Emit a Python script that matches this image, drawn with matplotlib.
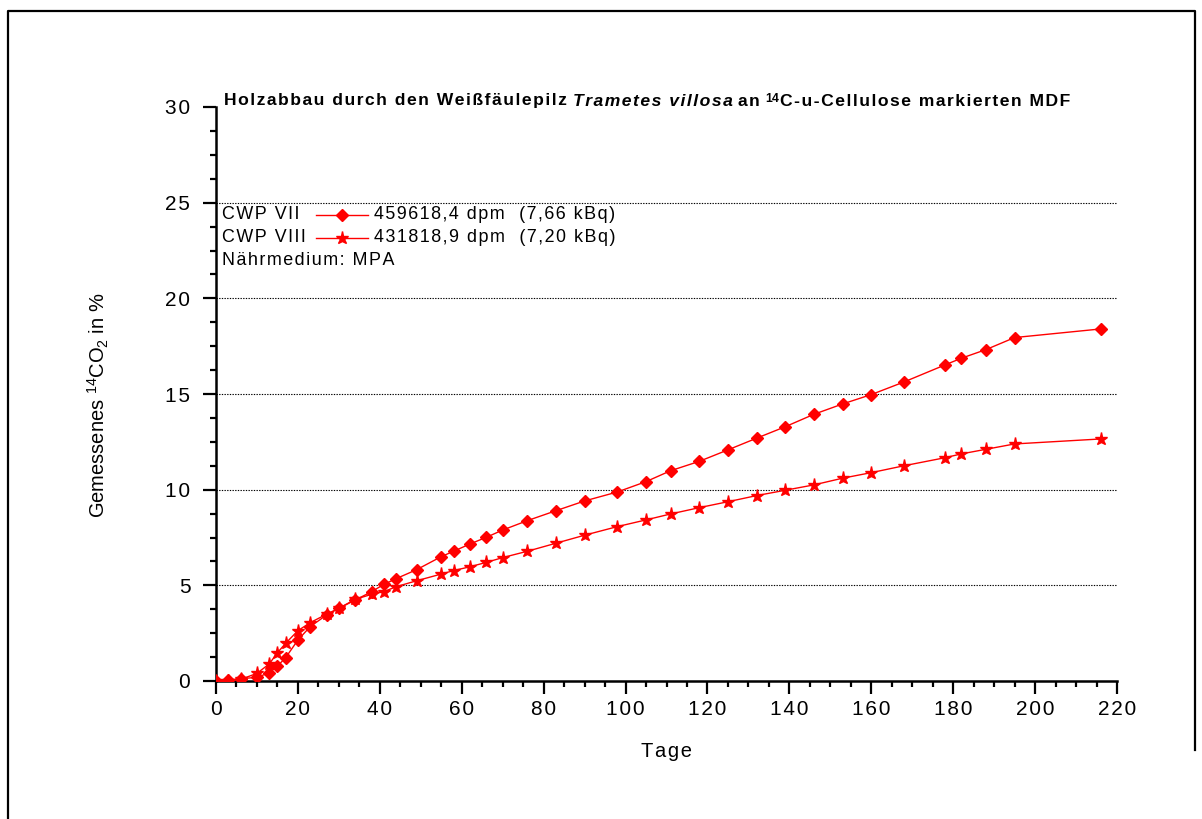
import matplotlib
matplotlib.use("Agg")
import matplotlib.pyplot as plt
from matplotlib.ticker import MultipleLocator, FuncFormatter
from matplotlib.lines import Line2D
from matplotlib.offsetbox import TextArea, HPacker, AnnotationBbox

plt.rcParams['font.family'] = ['Liberation Sans', 'DejaVu Sans']
plt.rcParams['mathtext.fontset'] = 'custom'
plt.rcParams['mathtext.rm'] = 'Liberation Sans'
plt.rcParams['mathtext.it'] = 'Liberation Sans:italic'
plt.rcParams['mathtext.bf'] = 'Liberation Sans:bold'

# Incubation time in days
days = [0, 3, 6, 10, 13, 15, 17, 20, 23, 27, 30, 34, 38, 41, 44, 49, 55, 58,
        62, 66, 70, 76, 83, 90, 98, 105, 111, 118, 125, 132, 139, 146, 153,
        160, 168, 178, 182, 188, 195, 216]

# Cumulative 14CO2 released, percent of applied activity
cwp_vii = [0.02, 0.05, 0.12, 0.19, 0.43, 0.78, 1.22, 2.14, 2.84, 3.45, 3.80,
           4.23, 4.67, 5.05, 5.35, 5.82, 6.50, 6.78, 7.16, 7.51, 7.89, 8.38,
           8.90, 9.41, 9.88, 10.42, 10.99, 11.48, 12.08, 12.69, 13.29, 13.94,
           14.48, 14.97, 15.63, 16.52, 16.87, 17.32, 17.95, 18.40]
cwp_viii = [0.00, 0.02, 0.08, 0.40, 0.89, 1.48, 1.97, 2.63, 3.05, 3.49, 3.80,
            4.27, 4.53, 4.67, 4.93, 5.24, 5.59, 5.77, 5.97, 6.20, 6.45, 6.78,
            7.20, 7.62, 8.07, 8.42, 8.73, 9.06, 9.37, 9.69, 9.97, 10.25,
            10.60, 10.89, 11.25, 11.67, 11.87, 12.11, 12.39, 12.65]

series_names = ["CWP VII", "CWP VIII"]
series_labels = ["459618,4 dpm  (7,66 kBq)", "431818,9 dpm  (7,20 kBq)"]
medium_label = "Nährmedium: MPA"

x_ticks = [0, 20, 40, 60, 80, 100, 120, 140, 160, 180, 200, 220]
y_ticks = [0, 5, 10, 15, 20, 25, 30]

RED = "#ff0000"
HS = "\u200a"


def spaced(s):
    return HS.join(s)


fig = plt.figure(figsize=(12.02, 8.19), dpi=100)
ax = fig.add_axes([216 / 1202, 138 / 819, 901 / 1202, 574 / 819])

ax.plot(days, cwp_vii, color=RED, lw=1.0, marker="D", ms=6.6,
        mec=RED, mfc=RED, zorder=3)
ax.plot(days, cwp_viii, color=RED, lw=1.0, marker="*", ms=9.5,
        mec=RED, mfc=RED, zorder=3)

ax.set_xlim(x_ticks[0], x_ticks[-1])
ax.set_ylim(y_ticks[0], y_ticks[-1])
ax.set_xticks(x_ticks)
ax.set_yticks(y_ticks)
ax.xaxis.set_minor_locator(MultipleLocator(5))
ax.yaxis.set_minor_locator(MultipleLocator(1.25))
ax.xaxis.set_major_formatter(FuncFormatter(lambda v, p: spaced(f"{v:.0f}")))
ax.yaxis.set_major_formatter(FuncFormatter(lambda v, p: spaced(f"{v:.0f}")))

ax.tick_params(axis="both", which="major", direction="out", length=9.5,
               width=1.6, labelsize=15, color="black")
ax.tick_params(axis="both", which="minor", direction="out", length=4.5,
               width=1.6, color="black")
ax.tick_params(axis="y", which="major", pad=9)
ax.tick_params(axis="x", which="major", pad=4)

for side in ("top", "right"):
    ax.spines[side].set_visible(False)
for side in ("left", "bottom"):
    ax.spines[side].set_linewidth(1.8)

# dotted horizontal guides at the inner major levels
ax.yaxis.grid(True, which="major", linestyle=(0, (1.2, 1.2)), color="black",
              lw=0.8)
gl = ax.get_ygridlines()
gl[0].set_visible(False)
gl[-1].set_visible(False)

ax.set_xlabel(spaced("Tage"), fontsize=14.5, labelpad=17)
fig.text(98 / 1202, 1 - 405 / 819,
         r"Gemessenes $^{14}$CO$_2$ in %",
         rotation=90, ha="center", va="center", fontsize=14.5)

# title assembled from differently styled pieces
tsize = 12.6
bold = dict(fontsize=tsize, fontweight="bold", color="black")
pieces = [
    TextArea(spaced("Holzabbau durch den Weißfäulepilz") + HS + " ",
             textprops=bold),
    TextArea(spaced("Trametes villosa") + " ",
             textprops=dict(bold, fontstyle="italic")),
    TextArea(spaced("an") + " ", textprops=bold),
    TextArea(r"$^{\mathbf{14}}$", textprops=bold),
    TextArea(spaced("C-u-Cellulose markierten MDF"), textprops=bold),
]
title_box = HPacker(children=pieces, align="baseline", pad=0, sep=0)
ab = AnnotationBbox(title_box, (224 / 1202, 1 - 101 / 819),
                    xycoords="figure fraction", box_alignment=(0, 0.5),
                    frameon=False, pad=0)
fig.add_artist(ab)

# key in the upper left of the plot area
rows_y = [0.812, 0.772]
markers = [("D", 6.6), ("*", 9.5)]
ksize = 12.9
for name, lab, ry, (mk, ms) in zip(series_names, series_labels, rows_y,
                                  markers):
    ax.text(0.0067, ry, spaced(name), transform=ax.transAxes, ha="left",
            va="center", fontsize=ksize)
    ax.add_line(Line2D([0.111, 0.169], [ry, ry], transform=ax.transAxes,
                       color=RED, lw=1.0))
    ax.add_line(Line2D([0.140], [ry], transform=ax.transAxes, color=RED,
                       marker=mk, ms=ms, mfc=RED, mec=RED, lw=0))
    ax.text(0.175, ry, spaced(lab), transform=ax.transAxes, ha="left",
            va="center", fontsize=ksize)
ax.text(0.0067, 0.733, spaced(medium_label), transform=ax.transAxes,
        ha="left", va="center", fontsize=ksize)

# page frame
fx0, fx1 = 8 / 1202, 1195 / 1202
fy_top = 1 - 11 / 819
fig.add_artist(Line2D([fx0, fx0, fx1, fx1], [0, fy_top, fy_top, 1 - 750 / 819],
                      transform=fig.transFigure, color="black", lw=1.6))

fig.savefig("out.png", dpi=100)
